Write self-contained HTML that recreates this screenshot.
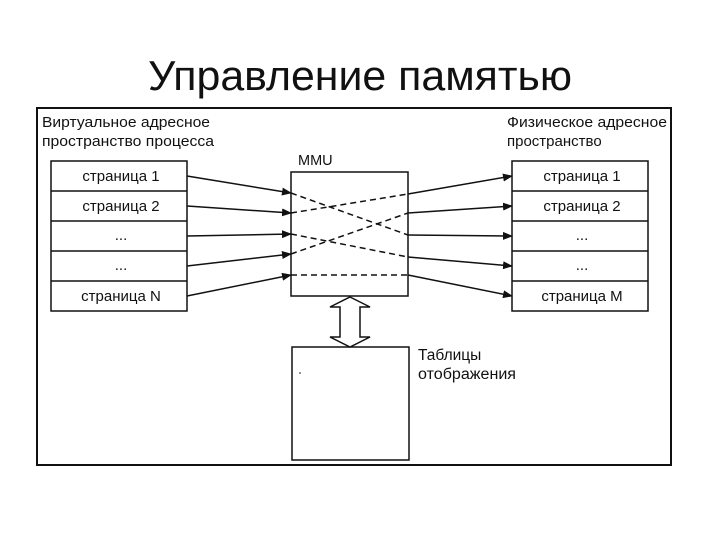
<!DOCTYPE html>
<html><head><meta charset="utf-8"><style>
body{margin:0;background:#fff;}
svg text{font-family:"Liberation Sans",sans-serif;fill:#111;}
</style></head><body>
<svg width="720" height="540" viewBox="0 0 720 540" xmlns="http://www.w3.org/2000/svg">
<defs><marker id="a" markerWidth="10" markerHeight="8" refX="9" refY="4" orient="auto" markerUnits="userSpaceOnUse"><path d="M0,0 L10,4 L0,8 z" fill="#111"/></marker></defs>
<text x="360" y="90" font-size="42" text-anchor="middle" textLength="424" lengthAdjust="spacingAndGlyphs">Управление памятью</text>
<rect x="37" y="108" width="634" height="357" fill="none" stroke="#111" stroke-width="2"/>
<text x="42" y="127" font-size="15" textLength="168" lengthAdjust="spacingAndGlyphs">Виртуальное адресное</text>
<text x="42" y="146" font-size="15" textLength="172" lengthAdjust="spacingAndGlyphs">пространство процесса</text>
<text x="507" y="127" font-size="15" textLength="160" lengthAdjust="spacingAndGlyphs">Физическое адресное</text>
<text x="507" y="146" font-size="15">пространство</text>
<text x="298" y="165" font-size="14.5">MMU</text>
<g fill="none" stroke="#111" stroke-width="1.5">
<rect x="51" y="161" width="136" height="150"/>
<line x1="51" y1="191" x2="187" y2="191"/><line x1="51" y1="221" x2="187" y2="221"/><line x1="51" y1="251" x2="187" y2="251"/><line x1="51" y1="281" x2="187" y2="281"/>
<rect x="512" y="161" width="136" height="150"/>
<line x1="512" y1="191" x2="648" y2="191"/><line x1="512" y1="221" x2="648" y2="221"/><line x1="512" y1="251" x2="648" y2="251"/><line x1="512" y1="281" x2="648" y2="281"/>
<rect x="291" y="172" width="117" height="124"/>
<rect x="292" y="347" width="117" height="113"/>
</g>
<g font-size="15" text-anchor="middle">
<text x="121" y="181">страница 1</text><text x="121" y="211">страница 2</text><text x="121" y="240">...</text><text x="121" y="270">...</text><text x="121" y="301">страница N</text>
<text x="582" y="181">страница 1</text><text x="582" y="211">страница 2</text><text x="582" y="240">...</text><text x="582" y="270">...</text><text x="582" y="301">страница M</text>
</g>
<g stroke="#111" stroke-width="1.5" marker-end="url(#a)">
<line x1="187" y1="176" x2="291" y2="193"/><line x1="187" y1="206" x2="291" y2="213"/><line x1="187" y1="236" x2="291" y2="234"/><line x1="187" y1="266" x2="291" y2="254"/><line x1="187" y1="296" x2="291" y2="275"/>
<line x1="408" y1="194" x2="512" y2="176"/><line x1="408" y1="213" x2="512" y2="206"/><line x1="408" y1="235" x2="512" y2="236"/><line x1="408" y1="257" x2="512" y2="266"/><line x1="408" y1="275" x2="512" y2="296"/>
</g>
<g stroke="#111" stroke-width="1.5" stroke-dasharray="6,4">
<line x1="291" y1="193" x2="408" y2="235"/><line x1="291" y1="213" x2="408" y2="194"/><line x1="291" y1="234" x2="408" y2="257"/><line x1="291" y1="254" x2="408" y2="213"/><line x1="291" y1="275" x2="408" y2="275"/>
</g>
<path d="M350,297 L370,307 L360,307 L360,337 L370,337 L350,347 L330,337 L340,337 L340,307 L330,307 Z" fill="#fff" stroke="#111" stroke-width="1.5"/>
<text x="418" y="360" font-size="15.5">Таблицы</text>
<text x="418" y="379" font-size="15.5" textLength="98" lengthAdjust="spacingAndGlyphs">отображения</text>
<circle cx="300" cy="373" r="0.8" fill="#111"/>
</svg>
</body></html>
